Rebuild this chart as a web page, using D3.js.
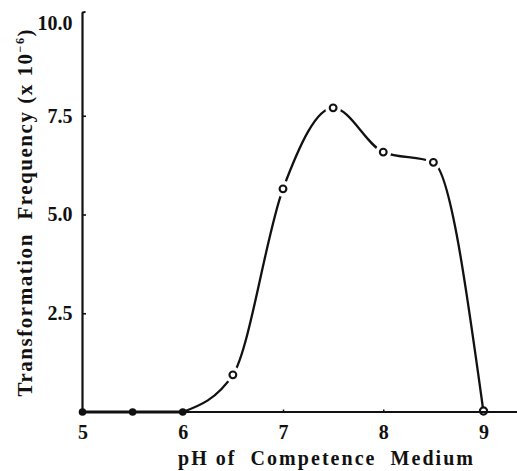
<!DOCTYPE html>
<html><head><meta charset="utf-8">
<script src="https://cdn.jsdelivr.net/npm/d3@7"></script>
<style>
html,body{margin:0;padding:0;background:#fff;}
svg{display:block;}
text{font-family:"Liberation Serif","DejaVu Serif",serif;font-weight:bold;fill:#111;}
</style></head>
<body>
<svg id="c" width="517" height="471"></svg>
<script>
const phValues = [5, 5.5, 6, 6.5, 7, 7.5, 8, 8.5, 9];
const frequency = [0, 0, 0, 0.94, 5.65, 7.7, 6.58, 6.32, 0];
const xTicks = [5, 6, 7, 8, 9];
const yTicks = [2.5, 5.0, 7.5, 10.0];
const xTitle = "pH of  Competence  Medium";
const yTitle = "Transformation  Frequency (x 10";

const svg = d3.select("#c");
const x = d3.scaleLinear().domain([5, 9]).range([82.5, 483.5]);
const y = d3.scaleLinear().domain([0, 10]).range([412, 17]);
const pts = phValues.map((p, i) => ({p, v: frequency[i]}));
const ink = "#111";

// flat thick segment 5..6
const flat = pts.filter(d => d.p <= 6);
svg.append("path")
  .attr("d", d3.line().x(d => x(d.p)).y(d => y(d.v))(flat))
  .attr("fill", "none").attr("stroke", ink).attr("stroke-width", 3.2);

// curve 6..9
const curvePts = pts.filter(d => d.p >= 6);
svg.append("path")
  .attr("d", d3.line().x(d => x(d.p)).y(d => y(d.v)).curve(d3.curveMonotoneX)(curvePts))
  .attr("fill", "none").attr("stroke", ink).attr("stroke-width", 2.3);

// open circles with gaps
const open = pts.filter(d => d.p > 6 && d.p < 9);
svg.selectAll("circle.gap").data(open).enter().append("circle")
  .attr("cx", d => x(d.p)).attr("cy", d => y(d.v)).attr("r", 8).attr("fill", "#fff");
svg.selectAll("circle.open").data(open).enter().append("circle")
  .attr("cx", d => x(d.p)).attr("cy", d => y(d.v)).attr("r", 3.4)
  .attr("fill", "#fff").attr("stroke", ink).attr("stroke-width", 2.1);
// last point at 9
const last = pts.filter(d => d.p === 9);
svg.selectAll("circle.last").data(last).enter().append("circle")
  .attr("cx", d => x(d.p)).attr("cy", d => y(d.v) - 1).attr("r", 3.6)
  .attr("fill", "#fff").attr("stroke", ink).attr("stroke-width", 2.2);

// x axis
const xAxis = d3.axisBottom(x).tickValues(xTicks).tickSize(0).tickPadding(13).tickFormat(d3.format("d"));
const gx = svg.append("g").attr("transform", `translate(0,${y(0)})`).call(xAxis);
gx.select(".domain").remove();
gx.append("line").attr("x1", x(5)).attr("x2", 517).attr("y1", 0).attr("y2", 0)
  .attr("stroke", ink).attr("stroke-width", 1.8);
gx.selectAll(".tick").filter(d => d === 7 || d === 8).append("line")
  .attr("y1", 0).attr("y2", -2.5).attr("stroke", ink).attr("stroke-width", 1.5);
gx.selectAll(".tick text").attr("font-size", 20).attr("fill", ink)
  .attr("font-family", "Liberation Serif").attr("font-weight", "bold");

// y axis
const yAxis = d3.axisLeft(y).tickValues(yTicks).tickSize(0).tickPadding(10).tickFormat(d3.format(".1f"));
const gy = svg.append("g").attr("transform", `translate(${x(5)},0)`).call(yAxis);
gy.select(".domain").remove();
gy.append("path").attr("d", `M0,${y(0)} L0,${y(10) - 4} Q0,${y(10) - 5} 3,${y(10) - 5}`)
  .attr("fill", "none").attr("stroke", ink).attr("stroke-width", 2.2);
gy.selectAll(".tick").filter(d => d < 10).append("line")
  .attr("x1", 0).attr("x2", 3.5).attr("stroke", ink).attr("stroke-width", 1.6);
gy.selectAll(".tick text").attr("font-size", 20).attr("fill", ink)
  .attr("font-family", "Liberation Serif").attr("font-weight", "bold");
gy.selectAll(".tick").filter(d => d === 10).select("text").attr("dy", "0.6em");

// filled dots 5..6
svg.selectAll("circle.fill").data(flat).enter().append("circle")
  .attr("cx", d => x(d.p)).attr("cy", d => y(d.v)).attr("r", 3.8).attr("fill", ink);

// titles
svg.append("text").attr("x", 325.5).attr("y", 465).attr("text-anchor", "middle")
  .attr("font-size", 20).attr("textLength", 295).attr("lengthAdjust", "spacing")
  .style("white-space", "pre").text(xTitle);

const yt = svg.append("text").attr("transform", "translate(32,213) rotate(-90)")
  .attr("text-anchor", "middle").attr("font-size", 21)
  .attr("textLength", 367).attr("lengthAdjust", "spacing")
  .style("white-space", "pre");
yt.append("tspan").text(yTitle);
yt.append("tspan").attr("dy", -8).attr("font-size", 12).text("−6");
yt.append("tspan").attr("dy", 8).text(")");
</script>
</body></html>
